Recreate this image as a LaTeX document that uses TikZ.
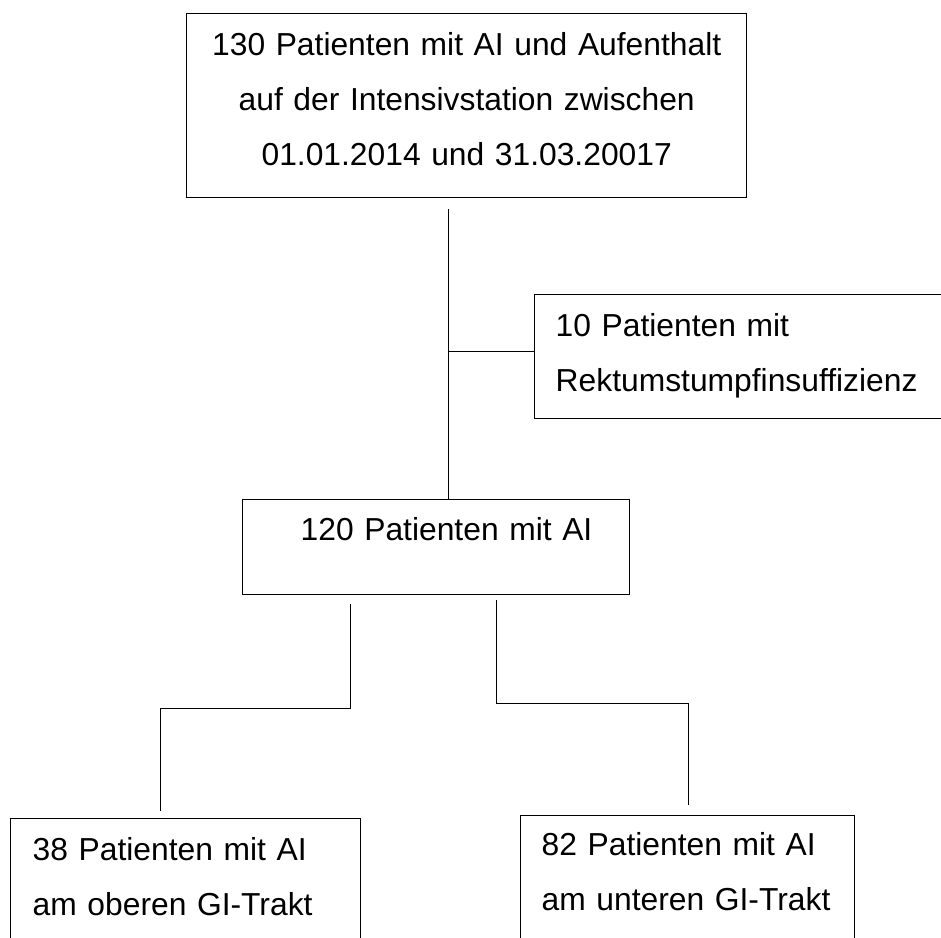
\documentclass[tikz,border=0pt]{standalone}
\usepackage{fontspec}
\setmainfont{Liberation Sans}

\begin{document}
\begin{tikzpicture}[x=0.5pt, y=-0.5pt,
        box/.style={draw=black, line width=0.7pt, anchor=north west,
                    inner xsep=0pt, inner ysep=0pt,
                    font=\fontsize{15.9pt}{27.5pt}\selectfont},
        link/.style={draw=black, line width=0.5pt}]
            % Frame to fix the page
            \useasboundingbox (0,0) rectangle (941,937);
            \clip (0,0) rectangle (941,937);
            % Boxes
            \node[box, text width=280pt, align=center, text height=21pt, text depth=71pt] (total) at (186,13)
                 {130 Patienten mit AI und Aufenthalt\\auf der Intensivstation zwischen\\01.01.2014 und 31.03.20017};
            \node[box, text width=233pt, align=left, text height=21pt, text depth=41pt] (excl) at (534,294)
                 {\hspace*{10.5pt}10 Patienten mit\\\hspace*{10.5pt}Rektumstumpfinsuffizienz};
            \node[box, text width=193.5pt, align=left, text height=20.5pt, text depth=27pt] (ai) at (242,499)
                 {\hspace*{29pt}120 Patienten mit AI};
            \node[box, text width=175pt, align=left, text height=21pt, text depth=70pt] (upper) at (10,818)
                 {\hspace*{11pt}38 Patienten mit AI\\\hspace*{11pt}am oberen GI-Trakt};
            \node[box, text width=167pt, align=left, text height=20pt, text depth=72.5pt] (lower) at (520,815)
                 {\hspace*{10.5pt}82 Patienten mit AI\\\hspace*{10.5pt}am unteren GI-Trakt};
            % Links
            \coordinate (drop)   at (448,209);
            \coordinate (fork)   at (448,351);
            \coordinate (lsplit) at (350,604);
            \coordinate (rsplit) at (496,600);
            \coordinate (lfoot)  at (160,811);
            \coordinate (rfoot)  at (688,805);
            \draw[link] (drop) -- (drop |- ai.north);
            \draw[link] (fork) -- (fork -| excl.west);
            \draw[link] (lsplit) -- ++(0,104) -| (lfoot);
            \draw[link] (rsplit) -- ++(0,103) -| (rfoot);
\end{tikzpicture}
\end{document}
